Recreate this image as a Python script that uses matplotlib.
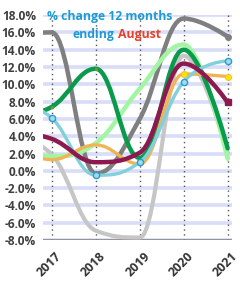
import matplotlib.pyplot as plt
import matplotlib.transforms as mtransforms
import numpy as np
from matplotlib.path import Path
from matplotlib.patches import PathPatch

plt.rcParams['font.family'] = ['Open Sans', 'DejaVu Sans']

# 2016 sits just left of the visible x range, the lines run in from it
years = [2016, 2017, 2018, 2019, 2020, 2021]
shown_years = [2017, 2018, 2019, 2020, 2021]

dark_gray = [15.5, 16.0, -0.3, 6.0, 17.6, 15.5]
light_gray = [4.0, 1.9, -6.9, -7.7, 13.3, 2.0]
green = [6.0, 7.4, 11.8, 1.5, 14.0, 2.6]
light_green = [2.5, 1.7, 3.2, 9.5, 14.6, 1.4]
cyan = [8.5, 6.1, -0.5, 1.0, 10.3, 12.7]
orange = [2.8, 1.3, 3.0, 0.8, 11.2, 10.9]
maroon = [4.6, 3.7, 1.0, 2.1, 12.4, 7.9]

yticks = np.arange(-8, 19, 2)


def spline_path(xs, ys, smoothing=1.5):
    """Spline with control arms like a highcharts 'spline' series."""
    xs = np.asarray(xs, float)
    ys = np.asarray(ys, float)
    n = len(xs)
    left = [None] * n
    right = [None] * n
    den = smoothing + 1
    for i in range(1, n - 1):
        lx = (smoothing * xs[i] + xs[i - 1]) / den
        ly = (smoothing * ys[i] + ys[i - 1]) / den
        rx = (smoothing * xs[i] + xs[i + 1]) / den
        ry = (smoothing * ys[i] + ys[i + 1]) / den
        corr = (ry - ly) * (rx - xs[i]) / (rx - lx) + ys[i] - ry
        ly += corr
        ry += corr
        # keep the curve from making false extremes
        if ly > ys[i - 1] and ly > ys[i]:
            ly = max(ys[i - 1], ys[i]); ry = 2 * ys[i] - ly
        elif ly < ys[i - 1] and ly < ys[i]:
            ly = min(ys[i - 1], ys[i]); ry = 2 * ys[i] - ly
        if ry > ys[i + 1] and ry > ys[i]:
            ry = max(ys[i + 1], ys[i]); ly = 2 * ys[i] - ry
        elif ry < ys[i + 1] and ry < ys[i]:
            ry = min(ys[i + 1], ys[i]); ly = 2 * ys[i] - ry
        left[i] = (lx, ly)
        right[i] = (rx, ry)
    verts = [(xs[0], ys[0])]
    codes = [Path.MOVETO]
    for i in range(1, n):
        c1 = right[i - 1] if right[i - 1] is not None else (xs[i - 1], ys[i - 1])
        c2 = left[i] if left[i] is not None else (xs[i], ys[i])
        verts += [c1, c2, (xs[i], ys[i])]
        codes += [Path.CURVE4] * 3
    return Path(verts, codes)


fig = plt.figure(figsize=(2.4, 2.9), dpi=100)
ax = fig.add_axes([0.179, 0.172, 0.788, 0.776])

# light lavender bands as horizontal grid
for v in yticks:
    ax.axhline(v, color='#d9ddf7', lw=2.6, zorder=0)
for yr in shown_years:
    ax.axvline(yr, color='#555555', lw=1.0, ls=(0, (1, 2.5)), zorder=0.5)
ax.axhline(-8, color='#888888', lw=1.2, zorder=0.6)

series = [
    (light_gray, '#c6c6c6', 3.0),
    (dark_gray, '#7f7f7f', 3.2),
    (light_green, '#a2f5a2', 3.2),
    (green, '#0a9a4c', 3.2),
    (orange, '#f0b455', 2.4),
    (cyan, '#82d0dc', 2.4),
    (maroon, '#8c1a50', 3.2),
]
for i, (vals, col, lw) in enumerate(series):
    patch = PathPatch(spline_path(years, vals), facecolor='none', edgecolor=col,
                      lw=lw, capstyle='round', joinstyle='round', zorder=2 + i)
    ax.add_patch(patch)

# point markers
ax.plot(years[1:], cyan[1:], ls='none', marker='o', ms=4.5, mfc='#9fdde6', mec='#2a9ad6', mew=1.0, zorder=10)
ax.plot(years[4:], orange[4:], ls='none', marker='o', ms=4.5, mfc='#ffe000', mec='#f0c030', mew=0.6, zorder=10)
ax.plot(years[-1:], maroon[-1:], ls='none', marker='s', ms=5, mfc='#8c1a50', mec='#8c1a50', zorder=10)
ax.plot(years[-1:], dark_gray[-1:], ls='none', marker='o', ms=4, mfc='#7f7f7f', mec='#7f7f7f', zorder=10)
ax.plot(years[1:3], green[1:3], ls='none', marker='o', ms=2.5, mfc='#6a9a2a', mec='none', zorder=10)

ax.set_xlim(2016.8, 2021.1)
ax.set_ylim(-8, 18)
ax.set_yticks(yticks)
ax.set_yticklabels([f'{v:.1f}%' for v in yticks], fontsize=8.6, fontweight='bold', color='#404040')
ax.set_xticks(shown_years)
ax.set_xticklabels([str(y) for y in shown_years], rotation=45, ha='right', va='center',
                   rotation_mode='anchor', fontsize=9, fontweight='bold', color='#333333')
ax.tick_params(axis='y', length=0, pad=5)
ax.tick_params(axis='x', length=0, pad=10)
# shift the slanted year labels a little to the right of their ticks
shift = mtransforms.ScaledTranslation(8 / 100, 0, fig.dpi_scale_trans)
for lab in ax.get_xticklabels():
    lab.set_transform(lab.get_transform() + shift)
for s in ax.spines.values():
    s.set_visible(False)

# title inside the plot
ax.text(0.02, 0.995, '% change 12 months', transform=ax.transAxes, ha='left', va='center',
        fontsize=8.8, fontweight='bold', color='#1e9bd7', zorder=20)
ax.text(0.375, 0.915, 'ending', transform=ax.transAxes, ha='right', va='center',
        fontsize=8.8, fontweight='bold', color='#1e9bd7', zorder=20)
ax.text(0.395, 0.915, 'August', transform=ax.transAxes, ha='left', va='center',
        fontsize=8.8, fontweight='bold', color='#e8402a', zorder=20)

fig.savefig('out.png', dpi=100)
